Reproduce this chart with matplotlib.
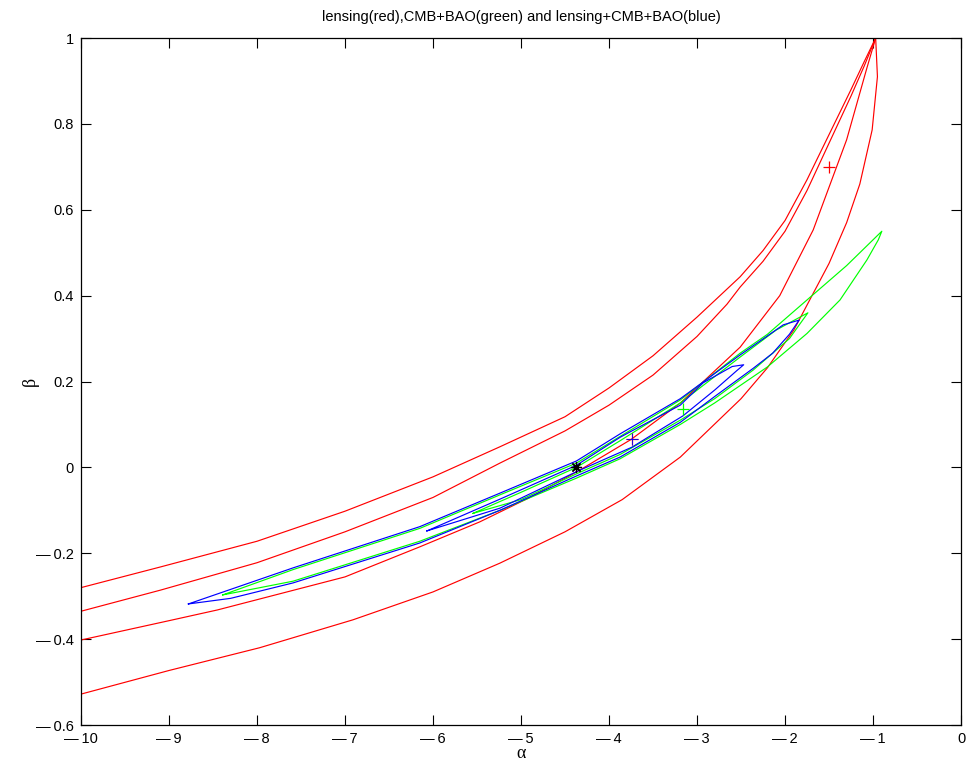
import numpy as np
import matplotlib
matplotlib.use("Agg")
import matplotlib.pyplot as plt

plt.rcParams['font.family'] = ['Liberation Sans', 'DejaVu Sans']

TITLE = 'lensing(red),CMB+BAO(green) and lensing+CMB+BAO(blue)'

# lensing contours (red): four boundary curves meeting at the apex
red_a_x = [-10, -9.1, -8, -7, -6, -5.24, -4.5, -4, -3.5, -3, -2.51, -2.25, -2.0, -1.75, -1.5, -1.25, -1.1, -0.97]
red_a_y = [-0.28, -0.232, -0.172, -0.102, -0.022, 0.048, 0.118, 0.185, 0.26, 0.35, 0.444, 0.505, 0.575, 0.67, 0.775, 0.88, 0.945, 1.0]

red_b_x = [-10, -9.1, -8, -7, -6, -5.24, -4.5, -4, -3.5, -3, -2.66, -2.51, -2.25, -2.0, -1.75, -1.5, -1.25, -1.1, -0.97]
red_b_y = [-0.335, -0.286, -0.222, -0.15, -0.07, 0.01, 0.085, 0.145, 0.215, 0.305, 0.38, 0.42, 0.48, 0.55, 0.645, 0.755, 0.865, 0.935, 1.0]

red_c_x = [-10, -9, -8.45, -7, -6.15, -5.47, -4.9, -4.33, -3.75, -3.19, -2.51, -2.06, -1.68, -1.3, -1.07, -0.97]
red_c_y = [-0.402, -0.357, -0.332, -0.255, -0.185, -0.127, -0.07, -0.006, 0.065, 0.15, 0.28, 0.40, 0.553, 0.763, 0.93, 1.0]

red_d_x = [-10, -9, -7.97, -6.91, -6, -5.24, -4.5, -3.85, -3.19, -2.5, -2.2, -1.9, -1.5, -1.3, -1.15, -1.01, -0.95, -0.97]
red_d_y = [-0.528, -0.473, -0.42, -0.355, -0.29, -0.223, -0.15, -0.075, 0.024, 0.16, 0.232, 0.32, 0.475, 0.57, 0.66, 0.786, 0.91, 1.0]

# CMB+BAO contours (green), closed
green_out_x = [-8.39, -7.59, -6.15, -5.24, -4.37, -3.875, -3.19, -2.51, -2.2, -1.75, -1.3, -0.9,
               -0.94, -1.07, -1.375, -1.75, -2.2, -2.8, -3.19, -3.875, -4.37, -5.24, -6.15, -7.59, -8.39]
green_out_y = [-0.297, -0.238, -0.142, -0.064, 0.01, 0.072, 0.157, 0.266, 0.31, 0.39, 0.47, 0.55,
               0.53, 0.483, 0.39, 0.312, 0.234, 0.15, 0.10, 0.02, -0.025, -0.10, -0.172, -0.265, -0.297]

green_in_x = [-5.545, -5.0, -4.37, -3.875, -3.19, -2.51, -2.1, -1.74,
              -1.95, -2.36, -2.8, -3.19, -3.875, -4.37, -5.0, -5.545]
green_in_y = [-0.107, -0.058, 0.0, 0.062, 0.15, 0.257, 0.32, 0.36,
              0.30, 0.227, 0.16, 0.11, 0.03, -0.015, -0.075, -0.107]

# lensing+CMB+BAO contours (blue), closed
blue_out_x = [-8.78, -7.59, -6.15, -5.24, -4.37, -3.875, -3.19, -2.51, -2.02, -1.89, -1.84,
              -1.95, -2.14, -2.36, -2.8, -3.19, -3.875, -4.37, -5.24, -6.15, -7.59, -8.3, -8.78]
blue_out_y = [-0.318, -0.234, -0.138, -0.060, 0.015, 0.078, 0.16, 0.262, 0.332, 0.340, 0.343,
              0.31, 0.266, 0.231, 0.165, 0.105, 0.024, -0.02, -0.10, -0.176, -0.269, -0.305, -0.318]

blue_in_x = [-6.07, -5.24, -4.37, -3.875, -3.74, -3.19, -2.93, -2.6, -2.47,
             -2.55, -2.8, -3.16, -3.59, -3.74, -4.37, -5.24, -6.07]
blue_in_y = [-0.148, -0.074, 0.005, 0.07, 0.085, 0.145, 0.197, 0.235, 0.239,
             0.225, 0.18, 0.12, 0.066, 0.047, -0.01, -0.095, -0.148]

# best-fit / fiducial markers
red_best = (-1.5, 0.70)
lens_cmb_best = (-3.74, 0.066)
green_best = (-3.16, 0.136)
fiducial = (-4.37, 0.0)

x_ticks = np.arange(-10, 1, 1)
y_ticks = np.round(np.arange(-0.6, 1.01, 0.2), 1)


def tick_text(v):
    s = '%g' % abs(v)
    return ('\u2014\u2009' + s) if v < 0 else s


fig = plt.figure(figsize=(9.68, 7.76), dpi=100)
ax = fig.add_axes([0.0837, 0.0657, 0.9091, 0.8853])

lw = 0.85
for xs, ys in [(red_a_x, red_a_y), (red_b_x, red_b_y), (red_c_x, red_c_y), (red_d_x, red_d_y)]:
    ax.plot(xs, ys, color='#ff0000', lw=lw)
ax.plot(green_out_x, green_out_y, color='#00ff00', lw=lw)
ax.plot(green_in_x, green_in_y, color='#00ff00', lw=lw)
ax.plot(blue_out_x, blue_out_y, color='#0000ff', lw=lw)
ax.plot(blue_in_x, blue_in_y, color='#0000ff', lw=lw)

def mark(pt, m, c, ms=9, mew=0.9):
    ax.plot([pt[0]], [pt[1]], linestyle='none', marker=m, ms=ms, mew=mew, mec=c, mfc=c)

mark(red_best, '+', '#ff0000')
mark(lens_cmb_best, '+', '#ff0000')
mark(lens_cmb_best, '+', '#0000ff', mew=0.6)
mark(green_best, '+', '#00ff00')
mark(fiducial, (8, 2, 0), 'black', ms=8)

ax.set_xlim(-10, 0)
ax.set_ylim(-0.6, 1)
ax.set_xticks(x_ticks)
ax.set_yticks(y_ticks)
ax.set_xticklabels([tick_text(v) for v in x_ticks])
ax.set_yticklabels([tick_text(v) for v in y_ticks])
ax.tick_params(direction='in', length=7, width=0.8, top=True, right=True,
               labelsize=10.5, pad=5)
for s in ax.spines.values():
    s.set_linewidth(0.9)

ax.set_xlabel('\u03b1', family='Liberation Serif', fontsize=13, va='center')
ax.set_ylabel('\u03b2', family='Liberation Serif', fontsize=13, va='center')
ax.xaxis.set_label_coords(0.5, -0.042)
ax.yaxis.set_label_coords(-0.058, 0.5)
ax.set_title(TITLE, fontsize=10.5, pad=12)

fig.savefig('out.png', dpi=100)
